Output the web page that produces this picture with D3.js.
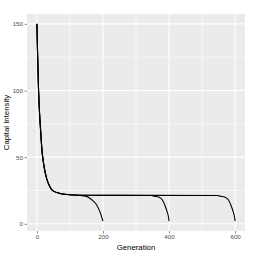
<!DOCTYPE html>
<html>
<head>
<meta charset="utf-8">
<script src="https://cdn.jsdelivr.net/npm/d3@7"></script>
<style>
  body { margin: 0; background: #fff; }
  text { font-family: "Liberation Sans", Arial, sans-serif; }
</style>
</head>
<body>
<div class="chart"></div>
<script>
// series end generations
var endGens = [200, 400, 600];

// shared early decay
var decayGen = [0, 2, 5, 8, 11, 15, 20, 25, 30, 40, 50, 70, 100, 150];
var decayVal = [150, 128, 100, 83, 71, 56, 45.5, 38.5, 33.5, 27.5, 24.5, 22.8, 21.8, 21.4];

// steady level
var steadyVal = 21.2;

// final drop: generations before the end and values
var tailBefore200 = [50, 40, 30, 20, 10, 5, 0];
var tailVal200 = [20.6, 19.2, 17.2, 14.5, 9.5, 6, 2];
var tailBeforeLong = [50, 30, 20, 12, 6, 2, 0];
var tailValLong = [21, 20, 17.8, 13.5, 9.2, 5.5, 2];

var xTicks = [0, 200, 400, 600];
var yTicks = [0, 50, 100, 150];

var W = 261, H = 255;
var margin = { top: 14, right: 16, bottom: 24, left: 27 };
var width = W - margin.left - margin.right;
var height = H - margin.top - margin.bottom;

function buildSeries(end) {
  var before = end == 200 ? tailBefore200 : tailBeforeLong;
  var vals = end == 200 ? tailVal200 : tailValLong;
  var start = end - before[0];
  var pts = [];
  decayGen.forEach(function(g, i) {
    if (g < start) pts.push([g, decayVal[i]]);
  });
  if (start > 150) pts.push([start - 1, steadyVal]);
  before.forEach(function(d, i) { pts.push([end - d, vals[i]]); });
  return pts;
}
var series = endGens.map(buildSeries);

var svg = d3.select(".chart").append("svg")
    .attr("width", W)
    .attr("height", H);

var x = d3.scaleLinear().domain([-30, 630]).range([0, width]);
var y = d3.scaleLinear().domain([-5.4, 157.4]).range([height, 0]);

var g = svg.append("g")
    .attr("transform", "translate(" + margin.left + "," + margin.top + ")");

g.append("rect")
    .attr("width", width).attr("height", height)
    .attr("fill", "#EBEBEB");

// minor grid
g.selectAll(".xminor").data([100, 300, 500]).enter().append("line")
    .attr("x1", function(d) { return x(d); }).attr("x2", function(d) { return x(d); })
    .attr("y1", 0).attr("y2", height)
    .attr("stroke", "#fff").attr("stroke-width", 0.55);
g.selectAll(".yminor").data([25, 75, 125]).enter().append("line")
    .attr("y1", function(d) { return y(d); }).attr("y2", function(d) { return y(d); })
    .attr("x1", 0).attr("x2", width)
    .attr("stroke", "#fff").attr("stroke-width", 0.55);
// major grid
g.selectAll(".xmajor").data(xTicks).enter().append("line")
    .attr("x1", function(d) { return x(d); }).attr("x2", function(d) { return x(d); })
    .attr("y1", 0).attr("y2", height)
    .attr("stroke", "#fff").attr("stroke-width", 1.1);
g.selectAll(".ymajor").data(yTicks).enter().append("line")
    .attr("y1", function(d) { return y(d); }).attr("y2", function(d) { return y(d); })
    .attr("x1", 0).attr("x2", width)
    .attr("stroke", "#fff").attr("stroke-width", 1.1);

var line = d3.line()
    .x(function(d) { return x(d[0]); })
    .y(function(d) { return y(d[1]); })
    .curve(d3.curveMonotoneX);

g.selectAll(".series").data(series).enter().append("path")
    .attr("d", line)
    .attr("fill", "none")
    .attr("stroke", "#000")
    .attr("stroke-width", 1.1);

// axes
var xAxis = g.append("g")
    .attr("transform", "translate(0," + height + ")")
    .call(d3.axisBottom(x).tickValues(xTicks).tickSize(2.5).tickPadding(1.5));
var yAxis = g.append("g")
    .call(d3.axisLeft(y).tickValues(yTicks).tickSize(2.5).tickPadding(1.5));
[xAxis, yAxis].forEach(function(a) {
  a.select(".domain").remove();
  a.selectAll("line").attr("stroke", "#333333").attr("stroke-width", 0.55);
  a.selectAll("text").attr("fill", "#4D4D4D")
    .style("font-size", "6.2px")
    .style("font-family", "Liberation Sans, Arial, sans-serif");
});

svg.append("text")
    .attr("x", margin.left + width / 2)
    .attr("y", 250)
    .attr("text-anchor", "middle")
    .style("font-size", "7.8px")
    .text("Generation");

svg.append("text")
    .attr("transform", "translate(9," + (margin.top + height / 2) + ") rotate(-90)")
    .attr("text-anchor", "middle")
    .style("font-size", "7.8px")
    .text("Capital Intensity");
</script>
</body>
</html>
